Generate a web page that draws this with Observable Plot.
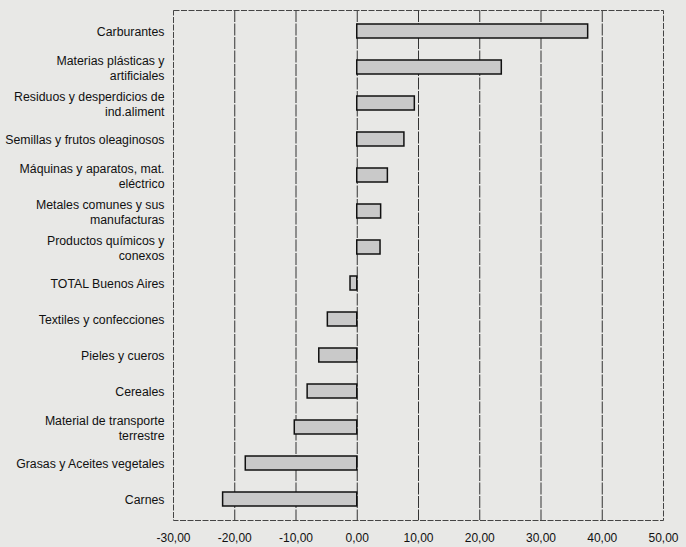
<!DOCTYPE html>
<html>
<head>
<meta charset="utf-8">
<script src="https://cdn.jsdelivr.net/npm/d3@7"></script>
<script src="https://cdn.jsdelivr.net/npm/@observablehq/plot@0.6"></script>
<style>
  html, body { margin: 0; padding: 0; background: #e8e8e6; }
  #chart svg { display: block; }
</style>
</head>
<body>
<div id="chart"></div>
<script>
const categories = [
  "Carburantes",
  "Materias plásticas y\nartificiales",
  "Residuos y desperdicios de\nind.aliment",
  "Semillas y frutos oleaginosos",
  "Máquinas y aparatos, mat.\neléctrico",
  "Metales comunes y sus\nmanufacturas",
  "Productos químicos y\nconexos",
  "TOTAL Buenos Aires",
  "Textiles y confecciones",
  "Pieles y cueros",
  "Cereales",
  "Material de transporte\nterrestre",
  "Grasas y Aceites vegetales",
  "Carnes"
];
const values = [37.7, 23.6, 9.4, 7.7, 5.0, 3.9, 3.8, -1.1, -4.8, -6.2, -8.1, -10.2, -18.2, -21.9];
const xTicks = [-30, -20, -10, 0, 10, 20, 30, 40, 50];
const gridTicks = [-20, -10, 0, 10, 20, 30, 40];

const data = categories.map((c, i) => ({category: c, value: values[i]}));
const fmt = v => v.toFixed(2).replace(".", ",");

const chart = Plot.plot({
  width: 686,
  height: 547,
  marginLeft: 173,
  marginRight: 23,
  marginTop: 10,
  marginBottom: 27,
  style: {background: "#e8e8e6", fontFamily: "Liberation Sans, Arial, sans-serif", fontSize: "12px", color: "#111"},
  x: {domain: [-30, 50]},
  y: {domain: categories, paddingInner: 0.6, paddingOuter: 0.3},
  marks: [
    Plot.ruleX(gridTicks, {stroke: "#333", strokeWidth: 1, strokeDasharray: "12,1.5"}),
    Plot.frame({stroke: "#444", strokeWidth: 1, strokeDasharray: "6,1.5"}),
    Plot.barX(data, {x: "value", y: "category", fill: "#c9c9c9", stroke: "#111", strokeWidth: 1.5}),
    Plot.axisX({ticks: xTicks, tickFormat: fmt, tickSize: 0, tickPadding: 13, fontSize: 12, label: null}),
    Plot.axisY({tickSize: 0, tickPadding: 9, fontSize: 12.3, lineHeight: 1.25, label: null})
  ]
});
document.getElementById("chart").appendChild(chart);
</script>
</body>
</html>
